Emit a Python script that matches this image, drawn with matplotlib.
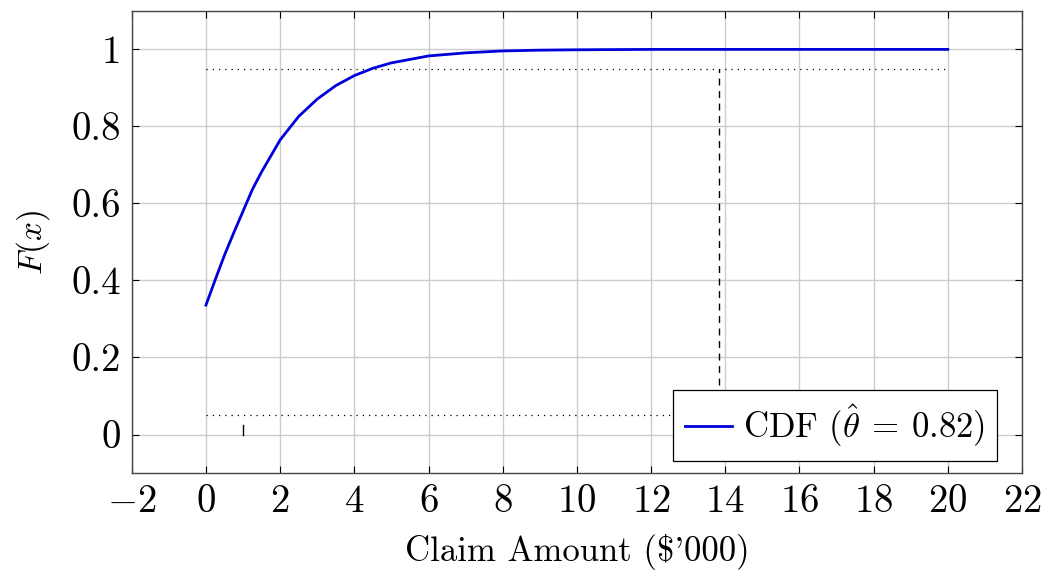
import numpy as np
import matplotlib
matplotlib.use("Agg")
import matplotlib.pyplot as plt

# values
claim_x = [0, 0.25, 0.5, 0.75, 1, 1.25, 1.5, 2, 2.5, 3, 3.5, 4, 4.5, 5, 6, 7, 8, 9, 10, 12, 14, 16, 18, 20]
cdf_y = [0.336, 0.402, 0.466, 0.524, 0.58, 0.636, 0.682, 0.765, 0.826, 0.871, 0.906, 0.932, 0.951, 0.965,
         0.983, 0.991, 0.996, 0.998, 0.999, 1.0, 1.0, 1.0, 1.0, 1.0]

upper_level = 0.95
lower_level = 0.05
x_quantile = 13.83
spike_x = 1
spike_h = 0.025
theta_hat = 0.82

plt.rcParams['font.family'] = 'serif'
plt.rcParams['font.serif'] = ['cmr10']
plt.rcParams['mathtext.fontset'] = 'cm'
plt.rcParams['axes.formatter.use_mathtext'] = True

fig = plt.figure(figsize=(10.46, 5.73), dpi=100)
ax = fig.add_axes([0.126, 0.1745, 0.851, 0.8065])

ax.grid(True, color="#cccccc", linewidth=1.0)
ax.set_axisbelow(True)

ax.plot([claim_x[0], claim_x[-1]], [upper_level, upper_level], color="black", linestyle=(0, (1, 4)), lw=0.9)
ax.plot([claim_x[0], claim_x[-1]], [lower_level, lower_level], color="black", linestyle=(0, (1, 4)), lw=0.9)
ax.plot([x_quantile, x_quantile], [0, upper_level], color="black", linestyle=(0, (5, 4)), lw=1.0)
ax.plot([spike_x, spike_x], [0, spike_h], color="black", lw=1.0)

ax.plot(claim_x, cdf_y, color="#0000dd", lw=2.0, solid_joinstyle="round",
        label=r"CDF ($\hat{\theta}\:=\:%.2f$)" % theta_hat)

ax.set_xlim(-2, 22)
ax.set_ylim(-0.1, 1.1)
ax.set_xticks(np.arange(-2, 23, 2))
ax.set_yticks([0, 0.2, 0.4, 0.6, 0.8, 1])
ax.set_yticklabels(["0", "0.2", "0.4", "0.6", "0.8", "1"])
ax.tick_params(direction="in", top=True, right=True, length=5, width=0.8, labelsize=28, pad=8)
for s in ax.spines.values():
    s.set_color("#444444")
    s.set_linewidth(1.0)

ax.set_xlabel(r"Claim Amount (\$'000)", fontsize=25, labelpad=10)
ax.set_ylabel(r"$F(x)$", fontsize=24, labelpad=14)

leg = ax.legend(loc="lower right", fontsize=25, fancybox=False, framealpha=1,
                edgecolor="black", handlelength=1.35, handletextpad=0.3, borderpad=0.35,
                borderaxespad=0, bbox_to_anchor=(0.972, 0.026))
leg.get_frame().set_linewidth(0.9)

fig.savefig("out.png", dpi=100)
